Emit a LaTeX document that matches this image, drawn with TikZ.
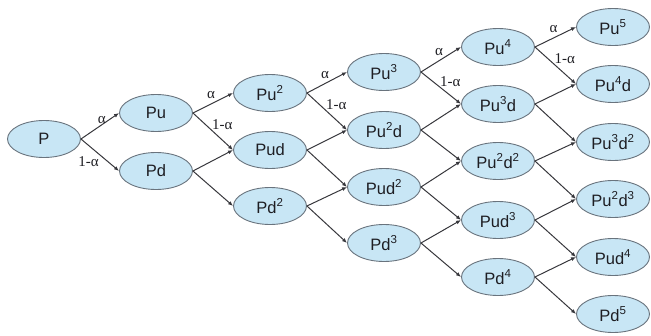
\documentclass[tikz,border=0pt]{standalone}
\usepackage{fontspec}
\setmainfont{Liberation Sans}
\newfontfamily\lblfont{Liberation Serif}
\usetikzlibrary{shapes.geometric,arrows.meta}
\definecolor{nodefill}{RGB}{200,230,245}
\definecolor{nodeline}{RGB}{105,115,125}
\definecolor{linkline}{RGB}{55,55,60}
\definecolor{inktext}{RGB}{30,30,35}
\tikzset{
  state/.style={ellipse, draw=nodeline, fill=nodefill, line width=0.9pt,
    minimum width=73pt, minimum height=37pt, inner sep=0pt,
    font=\fontsize{16.5}{18}\selectfont, text=inktext},
  link/.style={draw=linkline, line width=1pt, -{Latex[length=5pt,width=4pt]}},
  prob/.style={font=\lblfont\fontsize{15}{16}\selectfont, text=inktext, inner sep=0pt},
}
\newcommand{\ex}[1]{\textsuperscript{#1}}
\begin{document}
\begin{tikzpicture}[x=1pt,y=-1pt]
\useasboundingbox (0,0) rectangle (651,335);
% binomial lattice: column i = number of steps, row j = number of down moves
\node[state] (n00) at (44,139) {P};
\node[state] (n10) at (156,113) {Pu};
\node[state] (n11) at (156,171) {Pd};
\node[state] (n20) at (270,93)  {Pu\ex{2}};
\node[state] (n21) at (270,150) {Pud};
\node[state] (n22) at (270,206) {Pd\ex{2}};
\node[state] (n30) at (384,72)  {Pu\ex{3}};
\node[state] (n31) at (384,130) {Pu\ex{2}d};
\node[state] (n32) at (384,187) {Pud\ex{2}};
\node[state] (n33) at (384,243) {Pd\ex{3}};
\node[state] (n40) at (498,47)  {Pu\ex{4}};
\node[state] (n41) at (498,104) {Pu\ex{3}d};
\node[state] (n42) at (498,161) {Pu\ex{2}d\ex{2}};
\node[state] (n43) at (498,220) {Pud\ex{3}};
\node[state] (n44) at (498,277) {Pd\ex{4}};
\node[state] (n50) at (613,27)  {Pu\ex{5}};
\node[state] (n51) at (613,84)  {Pu\ex{4}d};
\node[state] (n52) at (613,142) {Pu\ex{3}d\ex{2}};
\node[state] (n53) at (613,199) {Pu\ex{2}d\ex{3}};
\node[state] (n54) at (613,257) {Pud\ex{4}};
\node[state] (n55) at (613,314) {Pd\ex{5}};
% up and down moves
\foreach \i/\ni in {0/1,1/2,2/3,3/4,4/5}{
  \foreach \j in {0,...,\i}{
    \pgfmathtruncatemacro\k{\j+1}
    \draw[link] (n\i\j.east) -- (n\ni\j.west);
    \draw[link] (n\i\j.east) -- (n\ni\k.west);
  }
}
% probabilities on the first branches
\path (n00.east) -- (n10.west) node[prob, pos=.55, above=1pt] {α};
\path (n00.east) -- (n11.west) node[prob, pos=.5, anchor=north east, xshift=-1pt, yshift=-1pt] {1-α};
\foreach \i/\ni in {1/2,2/3,3/4,4/5}{
  \path (n\i0.east) -- (n\ni0.west) node[prob, pos=.45, above=5pt] {α};
  \path (n\i0.east) -- (n\ni1.west) node[prob, pos=.45, anchor=south west, xshift=1pt] {1-α};
}
\end{tikzpicture}
\end{document}
